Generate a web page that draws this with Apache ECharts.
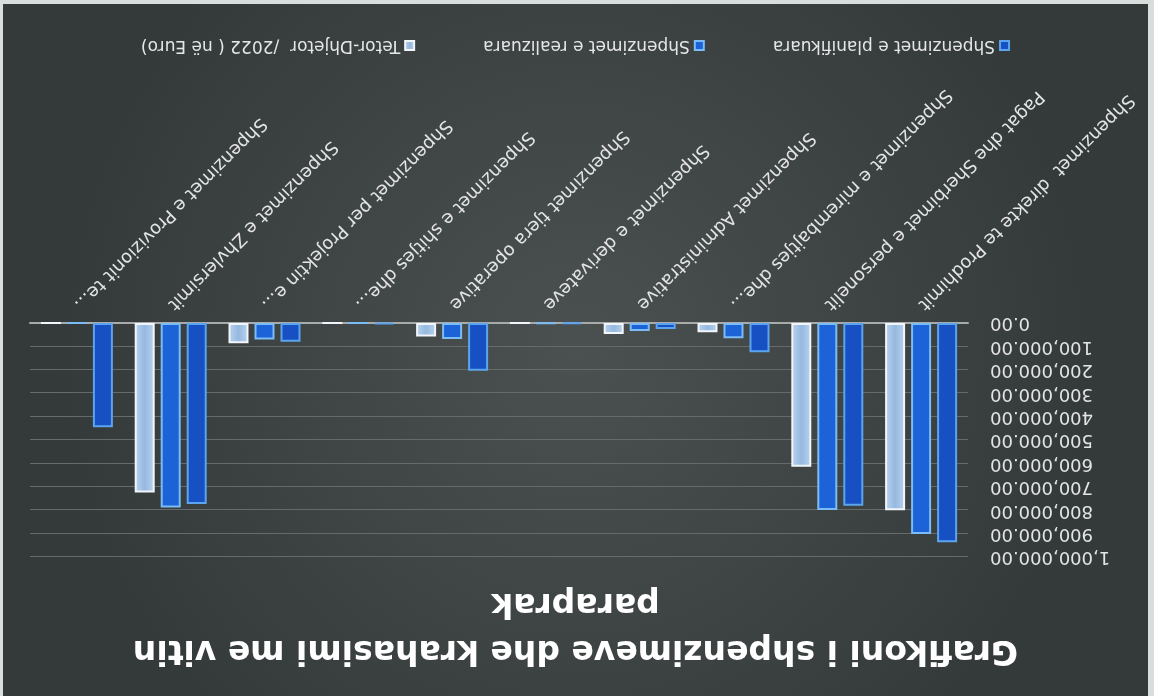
<!DOCTYPE html>
<html>
<head>
<meta charset="utf-8">
<script src="https://cdn.jsdelivr.net/npm/echarts@6/dist/echarts.min.js"></script>
<style>
html,body{margin:0;padding:0;width:1154px;height:696px;background:#d9dddc;overflow:hidden;}
/* the reference is a photo taken upside down, so the whole chart is turned */
#main{position:absolute;left:3px;top:4px;width:1145px;height:692px;transform:rotate(180deg);}
</style>
</head>
<body>
<div id="main"></div>
<script>
var categories = [
  'Shpenzimet  direkte te Prodhimit',
  'Pagat dhe Sherbimet e personelit',
  'Shpenzimet e mirembajtjes dhe...',
  'Shpenzimet Administrative',
  'Shpenzimet e derivateve',
  'Shpenzimet tjera operative',
  'Shpenzimet e shitjes dhe...',
  'Shpenzimet per Projektin e...',
  'Shpenzimet e Zhvlersimit',
  'Shpenzimet e Provizionit te...'
];
var seriesNames = ['Shpenzimet e planifikuara', 'Shpenzimet e realizuara', 'Tetor-Dhjetor  /2022 ( në Euro)'];
var planifikuara = [937000, 781000, 125000, 26000, 2500, 204000, 5000, 80000, 773000, 446000];
var realizuara = [902000, 799000, 65000, 34000, 2000, 68000, 0, 70000, 788000, 0];
var tetorDhjetor = [800000, 614000, 40000, 47000, 0, 58000, 0, 87000, 724000, 0];

var myChart = echarts.init(document.getElementById('main'));

function barStyle(fill, border){
  return {
    color: fill,
    borderColor: border,
    borderWidth: 2
  };
}

var option = {
  backgroundColor: new echarts.graphic.RadialGradient(0.5, 0.5, 0.75, [
    {offset: 0, color: '#4b5150'},
    {offset: 1, color: '#333a39'}
  ]),
  textStyle: {fontFamily: 'DejaVu Sans'},
  title: {
    text: 'Grafikoni i shpenzimeve dhe krahasimi me vitin\nparaprak',
    left: 'center',
    top: 18,
    textStyle: {
      color: '#ffffff',
      fontFamily: 'DejaVu Sans',
      fontWeight: 'bold',
      fontSize: 33,
      lineHeight: 47
    }
  },
  legend: {
    data: seriesNames,
    bottom: 28,
    left: 'center',
    icon: 'rect',
    itemWidth: 9,
    itemHeight: 9,
    itemGap: 68,
    textStyle: {color: '#e6e6e6', fontSize: 17, fontFamily: 'DejaVu Sans'}
  },
  grid: {left: 180, right: 27, top: 139, bottom: 319},
  xAxis: {
    type: 'category',
    data: categories,
    axisLine: {lineStyle: {color: '#a9abab', width: 2}},
    axisTick: {show: false},
    axisLabel: {
      interval: 0,
      rotate: 45,
      margin: 16,
      color: '#e4e4e4',
      fontSize: 18,
      fontFamily: 'DejaVu Sans'
    }
  },
  yAxis: {
    type: 'value',
    min: 0,
    max: 1000000,
    interval: 100000,
    axisLine: {show: false},
    axisTick: {show: false},
    splitLine: {lineStyle: {color: '#666b6a', width: 1}},
    axisLabel: {
      margin: 22,
      color: '#e4e4e4',
      fontSize: 18,
      fontFamily: 'DejaVu Sans',
      formatter: function (v) {
        return v.toLocaleString('en-US', {minimumFractionDigits: 2, maximumFractionDigits: 2});
      }
    }
  },
  series: [
    {
      name: seriesNames[0],
      type: 'bar',
      data: planifikuara,
      barWidth: 20,
      barGap: '30%',
      itemStyle: barStyle('#1650c2', '#5ca4ee')
    },
    {
      name: seriesNames[1],
      type: 'bar',
      data: realizuara,
      barWidth: 20,
      barGap: '30%',
      itemStyle: barStyle('#1b63d6', '#7cbcf6')
    },
    {
      name: seriesNames[2],
      type: 'bar',
      data: tetorDhjetor,
      barWidth: 20,
      barGap: '30%',
      itemStyle: barStyle(new echarts.graphic.LinearGradient(0, 0, 1, 0, [
        {offset: 0, color: '#b9d3ee'},
        {offset: 0.5, color: '#96b9e0'},
        {offset: 1, color: '#b9d3ee'}
      ]), '#f2f6fb')
    }
  ]
};

myChart.setOption(option);
</script>
</body>
</html>
